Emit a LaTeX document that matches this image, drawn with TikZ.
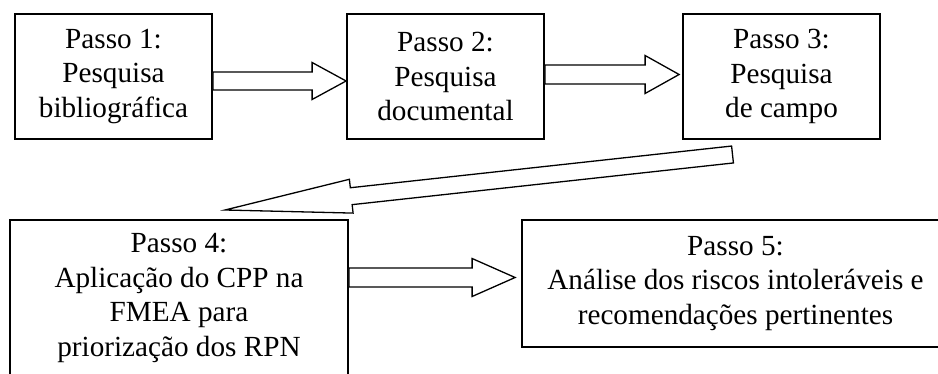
\documentclass[tikz,border=0pt]{standalone}
\usepackage{fontspec}
\setmainfont{Liberation Serif}
\usetikzlibrary{calc}

\tikzset{
  passo/.style={draw, line width=1.8pt, minimum width=197pt, minimum height=125pt,
    align=center, inner sep=0pt, font=\fontsize{29.2}{34.5}\selectfont},
  blockarr/.style={draw, line width=1.3pt, line join=miter, fill=white}
}

% hollow block arrow: shaft half width, head half width, head length, tail, tip
\newcommand{\blockarrow}[5]{
  \coordinate (hb) at ($(#5)!#3!(#4)$);
  \draw[blockarr] ($(#4)!#1!90:(#5)$) -- ($(hb)!#1!90:(#5)$) -- ($(hb)!#2!90:(#5)$)
    -- (#5) -- ($(hb)!#2!-90:(#5)$) -- ($(hb)!#1!-90:(#5)$) -- ($(#4)!#1!-90:(#5)$) -- cycle;
}

\begin{document}
\begin{tikzpicture}[x=1pt, y=-1pt]
            \useasboundingbox (0,0) rectangle (938,374);
            \clip (0,0) rectangle (938,374);
            \node [passo] (p1) at (113.5,76.5) {Passo 1:\\Pesquisa\\bibliográfica};
            \node [passo] (p2) at (445.5,76.5) {Passo 2:\\Pesquisa\\documental};
            \node [passo] (p3) at (781.5,76.5) {Passo 3:\\Pesquisa\\de campo};
            \node [passo, minimum width=338pt, minimum height=156pt] (p4) at (179,298)
                {Passo 4:\\Aplicação do CPP na\\FMEA para\\priorização dos RPN};
            \node [passo, minimum width=427pt, minimum height=127pt] (p5) at (735.5,283.5)
                {Passo 5:\\Análise dos riscos intoleráveis e\\recomendações pertinentes};
            % arrow ends
            \coordinate (a1s) at ([yshift=-4.5pt]p1.east);
            \coordinate (a1t) at ([yshift=-4.5pt]p2.west);
            \coordinate (a2s) at ([yshift=2pt]p2.east);
            \coordinate (a2t) at ([shift={(-3pt,2pt)}]p3.west);
            \coordinate (tail3) at (732.5,154.5);
            \coordinate (tip4) at (225,210);
            \coordinate (a4s) at ([yshift=20.5pt]p4.east);
            \coordinate (a4t) at ([shift={(-6pt,6pt)}]p5.west);
            \blockarrow{9pt}{18.5pt}{34pt}{a1s}{a1t}
            \blockarrow{9.5pt}{19pt}{34pt}{a2s}{a2t}
            \blockarrow{8.5pt}{17pt}{127pt}{tail3}{tip4}
            \blockarrow{9.5pt}{19pt}{43pt}{a4s}{a4t}
        \end{tikzpicture}
\end{document}
